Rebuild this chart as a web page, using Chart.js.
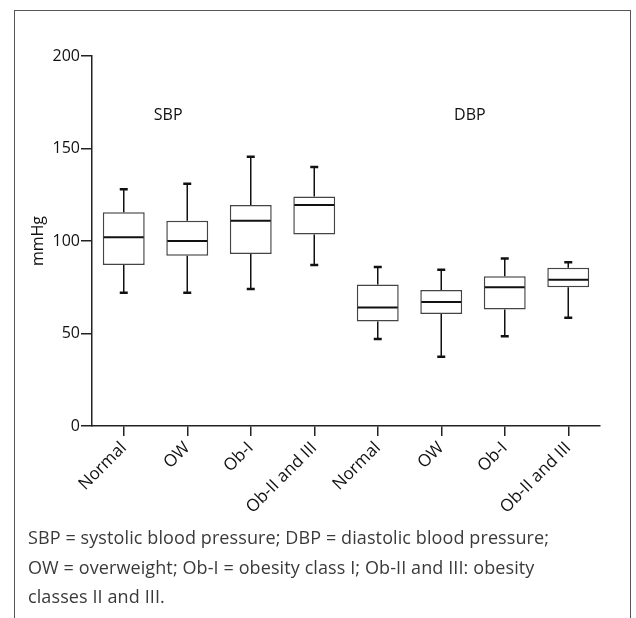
<!DOCTYPE html>
<html>
<head>
<meta charset="utf-8">
<script src="https://cdn.jsdelivr.net/npm/chart.js@4.4.1/dist/chart.umd.min.js"></script>
<style>
    body { margin: 0; background: #fff; width: 636px; height: 618px; overflow: hidden; position: relative; }
    #frame { position: absolute; left: 14px; top: 10px; width: 617px; height: 640px; border: 1px solid #555; box-sizing: border-box; }
    #wrap { position: absolute; left: 0; top: 0; width: 636px; height: 530px; }
    #caption { position: absolute; left: 28px; top: 523px; width: 595px; font-family: "Open Sans", sans-serif; font-size: 18px; letter-spacing: 0.1px; line-height: 29.5px; color: #3a3a3a; }
</style>
</head>
<body>
<div id="frame"></div>
<div id="wrap"><canvas id="chart"></canvas></div>
<div id="caption">SBP = systolic blood pressure; DBP = diastolic blood pressure;<br>OW = overweight; Ob-I = obesity class I; Ob-II and III: obesity<br>classes II and III.</div>
<script>
// Box plot data (mmHg)
const groups = ['Normal', 'OW', 'Ob-I', 'Ob-II and III'];

const sbpMin = [72, 72, 74, 87];
const sbpQ1 = [87, 92, 93, 103.5];
const sbpMedian = [102, 100, 111, 119.5];
const sbpQ3 = [115.5, 111, 119.5, 124];
const sbpMax = [128, 131, 145.5, 140];

const dbpMin = [47, 37.5, 48.5, 58.5];
const dbpQ1 = [56.5, 60.5, 63, 75];
const dbpMedian = [64, 67, 75, 79];
const dbpQ3 = [76.5, 73.5, 81, 85.5];
const dbpMax = [86, 84.5, 90.5, 88.5];

const yTicks = [0, 50, 100, 150, 200];

// group labels (SBP / DBP) placed by category index and value
const groupLabels = ['SBP', 'DBP'];
const groupLabelX = [0.7, 5.45];
const groupLabelY = [168, 168];

const labels = groups.concat(groups);
const mins = sbpMin.concat(dbpMin);
const q1s = sbpQ1.concat(dbpQ1);
const medians = sbpMedian.concat(dbpMedian);
const q3s = sbpQ3.concat(dbpQ3);
const maxs = sbpMax.concat(dbpMax);

const tickFont = { family: '"Open Sans", sans-serif', size: 16 };

const whiskerPlugin = {
    id: 'whiskers',
    afterDatasetsDraw(chart) {
        const ctx = chart.ctx;
        const y = chart.scales.y;
        const bars = chart.getDatasetMeta(0).data;
        ctx.save();
        ctx.strokeStyle = '#111';
        bars.forEach((bar, i) => {
            const x = bar.x;
            const half = bar.width / 2;
            const yMin = y.getPixelForValue(mins[i]);
            const yQ1 = y.getPixelForValue(q1s[i]);
            const yMed = y.getPixelForValue(medians[i]);
            const yQ3 = y.getPixelForValue(q3s[i]);
            const yMax = y.getPixelForValue(maxs[i]);

            ctx.lineWidth = 1.5;
            ctx.beginPath();
            ctx.moveTo(x, yQ1); ctx.lineTo(x, yMin);
            ctx.moveTo(x, yQ3); ctx.lineTo(x, yMax);
            ctx.stroke();

            ctx.lineWidth = 2.5;
            ctx.beginPath();
            ctx.moveTo(x - 4, yMin); ctx.lineTo(x + 4, yMin);
            ctx.moveTo(x - 4, yMax); ctx.lineTo(x + 4, yMax);
            ctx.stroke();

            ctx.lineWidth = 2;
            ctx.beginPath();
            ctx.moveTo(x - half + 1, yMed); ctx.lineTo(x + half - 1, yMed);
            ctx.stroke();
        });

        // group labels
        const xs = chart.scales.x;
        const step = xs.getPixelForValue(1) - xs.getPixelForValue(0);
        ctx.fillStyle = '#111';
        ctx.font = '16px "Open Sans", sans-serif';
        ctx.textAlign = 'center';
        ctx.textBaseline = 'middle';
        groupLabels.forEach((t, k) => {
            const px = xs.getPixelForValue(0) + groupLabelX[k] * step;
            ctx.fillText(t, px, y.getPixelForValue(groupLabelY[k]));
        });
        ctx.restore();
    }
};

new Chart(document.getElementById('chart'), {
    type: 'bar',
    data: {
        labels: labels,
        datasets: [{
            data: q1s.map((q, i) => [q, q3s[i]]),
            backgroundColor: '#fff',
            borderColor: '#444',
            borderWidth: 1.5,
            borderSkipped: false,
            barPercentage: 0.66,
            categoryPercentage: 1
        }]
    },
    options: {
        responsive: true,
        maintainAspectRatio: false,
        animation: false,
        layout: { padding: { left: 0, top: 56, right: 36, bottom: 4 } },
        plugins: {
            legend: { display: false },
            tooltip: { enabled: false }
        },
        scales: {
            x: {
                offset: true,
                grid: { display: true, drawOnChartArea: false, offset: false, tickLength: 10, color: '#222', lineWidth: 1.5 },
                border: { color: '#222', width: 1.5 },
                ticks: { color: '#111', font: { family: '"Open Sans", sans-serif', size: 17 }, minRotation: 45, maxRotation: 45, autoSkip: false, padding: 2 },
                afterFit(scale) { scale.height = 100; }
            },
            y: {
                min: 0,
                max: 200,
                afterBuildTicks(scale) { scale.ticks = yTicks.map(v => ({ value: v })); },
                grid: { drawOnChartArea: false, tickLength: 11, color: '#222', lineWidth: 1.5 },
                border: { color: '#222', width: 1.5 },
                ticks: { color: '#111', font: tickFont, padding: 1 },
                title: { display: true, text: 'mmHg', color: '#111', font: { family: '"Open Sans", sans-serif', size: 16 }, padding: { top: 29 } },
                afterFit(scale) { scale.width = 92; }
            }
        }
    },
    plugins: [whiskerPlugin]
});
</script>
</body>
</html>
